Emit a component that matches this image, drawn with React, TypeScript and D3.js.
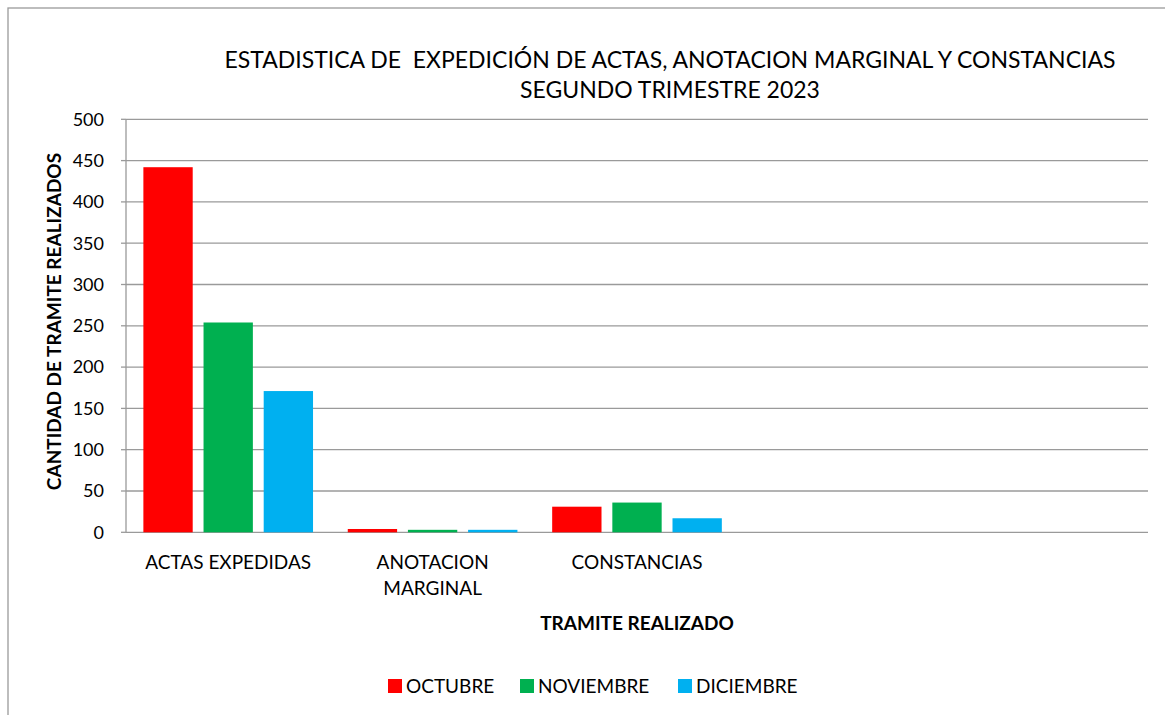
import React from "react";
import * as d3 from "d3";

const categories = ["ACTAS EXPEDIDAS", "ANOTACION MARGINAL", "CONSTANCIAS", "", ""];
const categoryLines = [["ACTAS EXPEDIDAS"], ["ANOTACION", "MARGINAL"], ["CONSTANCIAS"], [""], [""]];
const seriesNames = ["OCTUBRE", "NOVIEMBRE", "DICIEMBRE"];
const octubre = [442, 4, 31, null, null];
const noviembre = [254, 3, 36, null, null];
const diciembre = [171, 3, 17, null, null];
const seriesValues = [octubre, noviembre, diciembre];
const seriesColors = ["#FF0000", "#00B050", "#00B0F0"];
const yTicks = [0, 50, 100, 150, 200, 250, 300, 350, 400, 450, 500];
const titleLines = ["ESTADISTICA DE  EXPEDICIÓN DE ACTAS, ANOTACION MARGINAL Y CONSTANCIAS", "SEGUNDO TRIMESTRE 2023"];
const yTitle = "CANTIDAD DE TRAMITE REALIZADOS";
const xTitle = "TRAMITE REALIZADO";

const W = 1165;
const H = 715;
const FONT = "Lato, 'Open Sans', sans-serif";

export default function App() {
  const plot = { left: 126, right: 1148, top: 119.3, bottom: 532.3 };
  const y = d3.scaleLinear().domain([0, 500]).range([plot.bottom, plot.top]);
  const x0 = d3
    .scaleBand<number>()
    .domain(categories.map((_, i) => i))
    .range([plot.left, plot.right])
    .paddingInner(0)
    .paddingOuter(0);
  const bw = x0.bandwidth();
  const x1 = d3
    .scaleBand<number>()
    .domain(seriesNames.map((_, i) => i))
    .range([bw * 0.085, bw * 0.915])
    .paddingInner(0.18)
    .paddingOuter(0);

  const legendItems = [
    { sq: 388, tx: 406 },
    { sq: 520, tx: 538 },
    { sq: 678, tx: 696 },
  ];

  return (
    <div style={{ position: "absolute", left: 0, top: 0 }}>
      <svg width={W} height={H} style={{ display: "block", background: "#fff" }}>
        <rect x={8} y={8} width={W + 10} height={H + 10} fill="#fff" stroke="#9a9a9a" strokeWidth={1.3} />
        {titleLines.map((t, i) => (
          <text
            key={i}
            x={670}
            y={68 + i * 30}
            textAnchor="middle"
            fontFamily={FONT}
            fontSize={23}
            fill="#000"
            style={{ whiteSpace: "pre" }}
          >
            {t}
          </text>
        ))}
        {/* gridlines */}
        {yTicks.map((t) => (
          <line key={t} x1={plot.left} x2={plot.right} y1={y(t)} y2={y(t)} stroke="#9a9a9a" strokeWidth={1.3} />
        ))}
        {/* y axis */}
        <line x1={plot.left} x2={plot.left} y1={plot.top} y2={plot.bottom} stroke="#9a9a9a" strokeWidth={1.3} />
        {yTicks.map((t) => (
          <g key={"yt" + t}>
            <line x1={plot.left - 5} x2={plot.left} y1={y(t)} y2={y(t)} stroke="#9a9a9a" strokeWidth={1.3} />
            <text x={104} y={y(t)} dy="0.35em" textAnchor="end" fontFamily={FONT} fontSize={18} fill="#000">
              {t}
            </text>
          </g>
        ))}
        {/* bars */}
        {seriesValues.map((vals, s) =>
          vals.map((v, c) =>
            v == null ? null : (
              <rect
                key={s + "-" + c}
                x={(x0(c) as number) + (x1(s) as number)}
                y={y(v)}
                width={x1.bandwidth()}
                height={y(0) - y(v)}
                fill={seriesColors[s]}
              />
            )
          )
        )}
        {/* category labels */}
        {categoryLines.map((lines, c) =>
          lines.map((l, li) => (
            <text
              key={c + "-" + li}
              x={(x0(c) as number) + bw / 2}
              y={569 + li * 26}
              textAnchor="middle"
              fontFamily={FONT}
              fontSize={19}
              fill="#000"
            >
              {l}
            </text>
          ))
        )}
        <text x={637} y={630} textAnchor="middle" fontFamily={FONT} fontSize={19} fontWeight="bold" fill="#000">
          {xTitle}
        </text>
        <text
          transform={`translate(54,${321.5}) rotate(-90)`}
          dy="0.35em"
          textAnchor="middle"
          fontFamily={FONT}
          fontSize={19}
          fontWeight="bold"
          fill="#000"
        >
          {yTitle}
        </text>
        {/* legend */}
        {seriesNames.map((n, i) => (
          <g key={n}>
            <rect x={legendItems[i].sq} y={679} width={14} height={14} fill={seriesColors[i]} />
            <text x={legendItems[i].tx} y={686} dy="0.35em" fontFamily={FONT} fontSize={19} fill="#000">
              {n}
            </text>
          </g>
        ))}
      </svg>
    </div>
  );
}
